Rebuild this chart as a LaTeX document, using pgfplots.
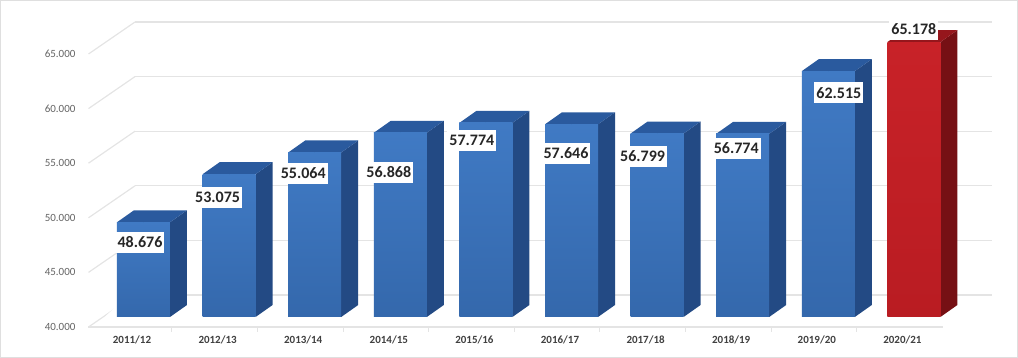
\documentclass[border=0pt]{standalone}
\usepackage{fontspec}
\setmainfont{Carlito}
\usepackage{pgfplots}
\pgfplotsset{compat=1.18}
\usepackage{pgfplotstable}
\definecolor{bfrontT}{RGB}{64,122,196}
\definecolor{bfrontB}{RGB}{52,104,172}
\definecolor{bside}{RGB}{35,74,132}
\definecolor{btop}{RGB}{42,90,158}
\definecolor{rfrontT}{RGB}{200,34,40}
\definecolor{rfrontB}{RGB}{185,28,34}
\definecolor{rside}{RGB}{118,16,20}
\definecolor{rtop}{RGB}{150,22,28}
\definecolor{gridc}{RGB}{228,228,228}
\definecolor{ylab}{RGB}{100,100,100}
\definecolor{xlab}{RGB}{64,64,64}

\pgfplotstableread{
x v
0 48.676
1 53.075
2 55.064
3 56.868
4 57.774
5 57.646
6 56.799
7 56.774
8 62.515
}\bluedata
\pgfplotstableread{
x v
9 65.178
}\reddata
\pgfplotstableread{
x v
0 48.676
1 53.075
2 55.064
3 56.868
4 57.774
5 57.646
6 56.799
7 56.774
8 62.515
9 65.178
}\alldata
% label offsets (pt) from the front top centre of each bar
\def\labdx{{-3.5,-11.5,-11.5,-11.5,-14,-5.5,-14.5,-6.5,10.5,0}}
\def\labdy{{-20,-23,-21,-39.5,-17.5,-29,-23,-14.5,-21.5,13}}

% 3D box drawn around the data point (front top centre of the bar)
\newcommand\barbox[4]{%
  \pgfmathsetmacro\bbH{(\bbV-40)*10.92}%
  \pgfmathsetmacro\bbN{-\bbH}%
  \pgfmathsetmacro\bbB{12-\bbH}%
  \pgfmathsetmacro\bbS{-\bbH-6}%
  \pgfmathsetmacro\bbT{-\bbH+15}%
  \shade[draw=none, left color=white, middle color=gray!45, right color=white]
     (-45pt,\bbS pt) -- (-23pt,\bbT pt) -- (88pt,\bbT pt) -- (66pt,\bbS pt) -- cycle;
  \fill[draw=none, #3] (26.5pt,0pt) -- (43.5pt,12pt) -- (43.5pt,\bbB pt) -- (26.5pt,\bbN pt) -- cycle;
  \fill[draw=none, #4] (-26.5pt,0pt) -- (-9.5pt,12pt) -- (43.5pt,12pt) -- (26.5pt,0pt) -- cycle;
  \shade[draw=none, top color=#1, bottom color=#2] (-26.5pt,0pt) rectangle (26.5pt,\bbN pt);
}

\begin{document}
\begin{tikzpicture}
\begin{axis}[
  x=85.6pt, y=10.92pt,
  xmin=-0.473, xmax=9.54, ymin=40, ymax=65,
  clip=false,
  axis line style={draw=none},
  tick style={draw=none},
  xtick={0,...,9},
  xticklabels={2011/12,2012/13,2013/14,2014/15,2015/16,2016/17,2017/18,2018/19,2019/20,2020/21},
  ytick={40,45,50,55,60,65},
  yticklabels={40.000,45.000,50.000,55.000,60.000,65.000},
  xticklabel style={font=\fontsize{11}{13}\selectfont\bfseries, text=xlab, xshift=-11.5pt, yshift=-15pt},
  yticklabel style={font=\fontsize{11}{13}\selectfont, text=ylab, xshift=-24pt, yshift=-10pt},
]
% back wall gridlines and floor diagonals
\pgfplotsinvokeforeach{40,45,50,55,60,65}{
  \draw[gridc, line width=1.2pt] ([shift={(32pt,22pt)}]axis cs:-0.473,#1) -- ([shift={(32pt,22pt)}]axis cs:9.54,#1);
  \draw[gridc, line width=1.2pt] ([shift={(-14.5pt,-10pt)}]axis cs:-0.473,#1) -- ([shift={(32pt,22pt)}]axis cs:-0.473,#1);
}
% floor front edge and ticks
\draw[gridc, line width=1.4pt] ([shift={(-14.5pt,-10pt)}]axis cs:-0.479,40) -- ([shift={(-14.5pt,-10pt)}]axis cs:9.51,40);
\pgfplotsinvokeforeach{0.5,1.5,2.5,3.5,4.5,5.5,6.5,7.5,8.5}{
  \draw[gridc, line width=1pt] ([shift={(-14.5pt,-10pt)}]axis cs:#1,40) -- ([shift={(-14.5pt,-15pt)}]axis cs:#1,40);
}

\addplot[scatter, only marks, mark=*, mark size=0pt, draw=none,
  scatter/use mapped color={draw=none, fill=none},
  visualization depends on={rawy \as \bbV},
  scatter/@pre marker code/.append code={\barbox{bfrontT}{bfrontB}{bside}{btop}}]
  table[x=x, y=v] {\bluedata};
\addplot[scatter, only marks, mark=*, mark size=0pt, draw=none,
  scatter/use mapped color={draw=none, fill=none},
  visualization depends on={rawy \as \bbV},
  scatter/@pre marker code/.append code={\barbox{rfrontT}{rfrontB}{rside}{rtop}}]
  table[x=x, y=v] {\reddata};

% value labels
\addplot[only marks, mark=none,
  point meta=explicit symbolic,
  visualization depends on={rawx \as \labI},
  nodes near coords,
  every node near coord/.append style={anchor=center,
     xshift={\labdx[\labI]*1pt}, yshift={\labdy[\labI]*1pt},
     fill=white, text=black!85, font=\fontsize{16}{16}\selectfont\bfseries,
     inner xsep=2pt, inner ysep=5pt}]
  table[x=x, y=v, meta=v] {\alldata};

\coordinate (O) at (axis cs:0,40);
\end{axis}
\draw[gray!25, line width=1pt] ([shift={(-143pt,316.5pt)}]O) rectangle ([shift={(874pt,-40.5pt)}]O);
\end{tikzpicture}
\end{document}
